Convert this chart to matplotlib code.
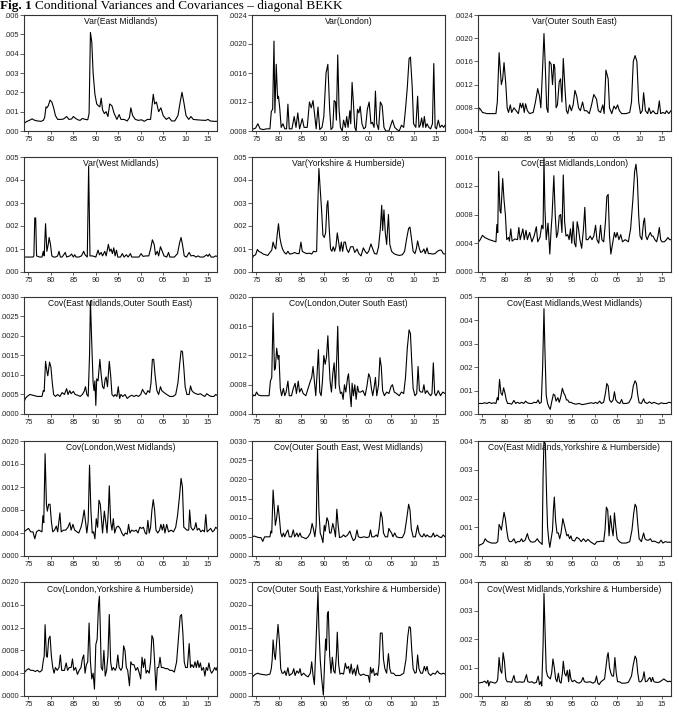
import matplotlib
matplotlib.use("Agg")
import matplotlib.pyplot as plt
from matplotlib.ticker import FixedLocator, FuncFormatter

# all series are (year, value) pairs, values in units of 1e-4
var_em = [(1974.0,3.8),(1974.5,4.8),(1975.2,5.5),(1975.8,6.3),(1976.3,5.6),(1977.0,5.2),(1977.8,5.0),(1978.3,5.5),(1978.6,7.0),(1978.9,12.5),(1979.1,12.0),(1979.4,13.0),(1979.8,16.0),(1980.2,15.0),(1980.6,12.0),(1981.0,8.0),(1981.5,6.0),(1982.2,6.0),(1982.8,6.2),(1983.5,7.5),(1984.0,6.0),(1984.6,6.2),(1985.0,7.5),(1985.5,6.5),(1986.0,5.8),(1986.5,5.5),(1987.0,6.5),(1987.6,6.0),(1988.2,5.8),(1988.5,9.0),(1988.8,51.0),(1989.1,46.0),(1989.4,30.0),(1989.8,19.0),(1990.2,14.0),(1990.6,13.0),(1990.9,12.5),(1991.2,17.0),(1991.5,11.0),(1991.9,9.0),(1992.3,10.0),(1992.7,7.5),(1993.1,14.0),(1993.6,13.0),(1994.1,9.0),(1994.7,6.0),(1995.2,8.5),(1995.6,6.0),(1996.3,6.0),(1997.0,5.2),(1997.5,7.0),(1997.8,12.0),(1998.2,8.0),(1998.8,6.0),(1999.5,5.5),(2000.2,5.8),(2000.8,5.0),(2001.5,6.0),(2002.2,6.0),(2002.8,19.0),(2003.1,14.0),(2003.5,15.0),(2004.0,10.0),(2004.5,12.0),(2005.0,8.0),(2005.7,6.0),(2006.3,7.0),(2006.9,5.2),(2007.6,5.2),(2008.3,8.0),(2008.8,15.0),(2009.2,20.0),(2009.6,15.0),(2010.1,8.0),(2010.7,6.0),(2011.2,7.5),(2011.7,6.0),(2012.5,5.8),(2013.5,5.6),(2014.5,5.5),(2015.0,6.0),(2015.5,5.2),(2016.2,5.0),(2017.0,5.0)]

var_lon = [(1974.0,8.2),(1974.8,8.4),(1975.3,9.0),(1975.8,8.3),(1976.5,8.2),(1977.3,8.3),(1978.0,8.3),(1978.3,10.7),(1978.6,11.0),(1978.9,20.4),(1979.1,10.5),(1979.4,17.2),(1979.7,12.5),(1979.9,12.8),(1980.2,11.0),(1980.5,8.5),(1980.9,9.0),(1981.3,8.3),(1981.7,8.3),(1982.0,11.7),(1982.3,8.3),(1982.9,8.3),(1983.4,10.0),(1983.8,8.5),(1984.2,10.5),(1984.6,8.3),(1985.2,9.7),(1985.6,8.5),(1986.3,8.5),(1986.8,12.0),(1987.2,11.2),(1987.6,12.2),(1988.0,10.0),(1988.3,8.3),(1988.7,11.3),(1989.1,8.2),(1989.6,8.5),(1990.0,10.0),(1990.5,16.0),(1990.9,17.2),(1991.3,11.0),(1991.6,8.2),(1992.0,8.5),(1992.3,12.2),(1992.6,12.0),(1992.8,9.5),(1993.1,18.5),(1993.4,11.0),(1993.7,8.5),(1994.1,8.0),(1994.4,9.5),(1994.8,8.5),(1995.1,10.0),(1995.4,8.5),(1995.8,10.8),(1996.0,9.0),(1996.3,14.7),(1996.6,11.8),(1996.9,8.5),(1997.2,8.0),(1997.5,11.0),(1997.8,10.5),(1998.1,11.4),(1998.5,9.0),(1998.9,8.3),(1999.3,8.5),(1999.7,11.0),(2000.1,12.0),(2000.5,9.0),(2000.8,9.2),(2001.2,8.5),(2001.5,13.5),(2001.8,9.0),(2002.2,8.2),(2002.6,12.0),(2003.0,11.5),(2003.4,8.5),(2003.8,8.0),(2004.5,8.0),(2005.3,9.5),(2005.8,8.5),(2006.3,8.2),(2006.8,8.0),(2007.3,8.8),(2007.8,8.5),(2008.2,11.0),(2008.6,14.0),(2009.0,18.0),(2009.3,18.2),(2009.7,14.0),(2010.0,9.0),(2010.5,8.5),(2010.9,12.8),(2011.2,8.5),(2011.5,8.8),(2011.8,9.8),(2012.1,8.5),(2012.4,10.0),(2012.7,8.5),(2013.0,9.0),(2013.4,8.5),(2013.8,8.3),(2014.2,9.0),(2014.5,17.3),(2014.8,8.5),(2015.1,8.3),(2015.5,9.5),(2015.9,8.5),(2016.3,8.8),(2016.7,8.5),(2017.0,8.8)]

var_ose = [(1974.0,6.2),(1974.2,8.0),(1974.5,7.8),(1975.0,7.2),(1976.0,7.0),(1977.0,7.0),(1978.0,7.0),(1978.3,9.0),(1978.7,17.5),(1979.2,12.0),(1979.5,13.0),(1979.8,15.8),(1980.2,12.0),(1980.5,8.0),(1980.8,7.2),(1981.2,8.5),(1981.5,7.2),(1982.0,8.0),(1982.5,7.5),(1983.0,7.0),(1983.4,8.8),(1983.7,8.0),(1984.0,8.8),(1984.3,7.2),(1984.6,8.7),(1985.0,7.5),(1985.5,7.0),(1986.3,7.2),(1986.8,9.0),(1987.3,11.3),(1987.7,10.0),(1988.0,8.0),(1988.4,15.0),(1988.7,20.8),(1989.0,15.0),(1989.3,8.0),(1989.6,7.2),(1989.9,16.0),(1990.3,15.5),(1990.6,12.0),(1990.9,15.5),(1991.1,15.0),(1991.4,8.0),(1991.7,8.5),(1992.1,12.5),(1992.4,13.0),(1992.7,9.0),(1993.0,16.5),(1993.4,11.0),(1993.7,7.5),(1994.0,7.0),(1994.4,8.5),(1994.8,7.5),(1995.2,8.5),(1995.6,11.0),(1996.0,10.0),(1996.4,8.0),(1996.8,7.5),(1997.3,9.0),(1997.7,7.5),(1998.2,7.5),(1998.8,7.0),(1999.3,8.5),(1999.8,10.3),(2000.4,9.5),(2000.8,7.5),(2001.3,7.2),(2001.8,8.5),(2002.1,7.0),(2002.5,14.5),(2003.0,13.0),(2003.3,8.0),(2003.8,7.0),(2004.3,8.3),(2004.7,7.8),(2005.1,8.5),(2005.5,7.5),(2006.0,7.0),(2007.0,7.0),(2007.8,7.2),(2008.2,9.0),(2008.6,16.0),(2009.0,17.0),(2009.4,16.0),(2009.8,9.0),(2010.2,7.0),(2010.6,7.5),(2010.9,10.6),(2011.3,7.5),(2011.8,7.0),(2012.1,8.0),(2012.5,7.0),(2013.0,7.5),(2013.5,7.0),(2014.0,7.0),(2014.4,9.2),(2014.7,7.0),(2015.2,7.2),(2015.7,7.0),(2016.0,7.5),(2016.5,7.0),(2017.0,7.5)]

var_wm = [(1974.0,6.5),(1975.0,6.5),(1976.0,6.5),(1976.2,7.0),(1976.4,23.5),(1976.6,23.5),(1976.8,7.0),(1977.5,6.5),(1978.0,6.5),(1978.3,9.0),(1978.5,7.0),(1978.8,21.0),(1979.1,9.0),(1979.4,12.0),(1979.6,15.0),(1979.9,12.0),(1980.2,7.0),(1980.6,6.5),(1981.0,6.5),(1981.5,7.0),(1981.8,9.0),(1982.1,6.5),(1982.5,6.5),(1983.2,8.5),(1983.5,6.5),(1984.2,7.0),(1984.6,7.8),(1985.0,6.5),(1985.3,7.5),(1985.6,6.5),(1986.2,6.5),(1986.8,7.0),(1987.3,9.0),(1987.6,7.5),(1988.1,6.5),(1988.4,46.0),(1988.7,7.0),(1989.2,7.0),(1989.6,6.8),(1990.0,6.5),(1990.5,9.5),(1990.8,7.5),(1991.2,8.5),(1991.5,7.0),(1992.0,9.0),(1992.3,7.0),(1992.8,12.0),(1993.1,9.0),(1993.4,10.0),(1993.7,8.0),(1994.0,10.5),(1994.3,7.0),(1994.6,9.5),(1994.9,6.5),(1995.5,6.5),(1995.9,8.0),(1996.3,6.5),(1996.8,7.5),(1997.2,6.5),(1997.7,8.0),(1998.0,6.5),(1999.0,6.5),(1999.6,6.5),(2000.1,8.0),(2000.5,6.8),(2001.2,7.0),(2001.8,7.0),(2002.2,10.0),(2002.6,14.0),(2003.0,12.0),(2003.3,7.5),(2003.7,9.0),(2004.0,7.0),(2004.4,11.0),(2004.8,9.0),(2005.2,7.0),(2005.8,6.5),(2006.2,8.5),(2006.5,6.5),(2007.5,6.5),(2008.2,8.0),(2008.7,13.0),(2009.0,15.0),(2009.3,12.0),(2009.7,7.0),(2010.2,6.5),(2010.8,8.5),(2011.2,7.0),(2011.8,7.2),(2012.3,6.5),(2012.8,7.0),(2013.2,6.5),(2014.0,6.5),(2014.7,7.5),(2015.0,6.8),(2015.3,7.8),(2015.7,6.5),(2016.3,6.5),(2016.7,7.0),(2017.0,6.8)]

var_yh = [(1974.0,5.5),(1974.3,7.0),(1974.8,7.5),(1975.2,9.8),(1975.5,9.0),(1976.0,8.5),(1976.5,7.8),(1977.0,7.5),(1977.5,7.2),(1978.0,8.5),(1978.4,9.5),(1978.7,13.0),(1979.0,11.0),(1979.3,10.0),(1979.6,16.0),(1979.9,21.0),(1980.2,15.0),(1980.5,12.0),(1980.8,10.0),(1981.2,8.5),(1981.6,7.8),(1982.0,9.0),(1982.4,7.8),(1983.0,8.0),(1983.5,8.5),(1984.0,8.0),(1984.5,8.0),(1984.9,13.0),(1985.2,9.0),(1985.6,8.5),(1986.2,8.0),(1986.8,8.2),(1987.3,7.8),(1987.7,9.0),(1988.1,8.8),(1988.4,9.0),(1988.6,25.0),(1988.9,45.0),(1989.2,36.0),(1989.5,27.0),(1989.8,16.0),(1990.1,15.0),(1990.4,17.0),(1990.7,29.0),(1990.9,31.0),(1991.2,19.0),(1991.5,10.0),(1991.8,9.0),(1992.1,11.0),(1992.4,9.0),(1992.7,11.0),(1993.0,17.0),(1993.3,13.0),(1993.6,9.0),(1993.9,13.0),(1994.2,9.0),(1994.5,13.0),(1994.8,13.0),(1995.1,10.0),(1995.5,8.5),(1996.0,11.0),(1996.5,11.0),(1996.9,8.5),(1997.4,10.0),(1997.8,8.0),(1998.3,7.0),(1998.8,10.5),(1999.2,9.0),(1999.6,8.0),(2000.0,9.0),(2000.5,12.2),(2000.9,10.0),(2001.3,8.0),(2001.8,7.8),(2002.2,11.0),(2002.6,19.0),(2002.9,29.0),(2003.1,18.0),(2003.4,27.0),(2003.7,17.0),(2004.0,12.0),(2004.4,25.0),(2004.7,12.0),(2005.1,9.0),(2005.6,8.0),(2006.2,7.5),(2006.8,7.2),(2007.5,7.5),(2008.0,9.0),(2008.5,15.0),(2008.9,19.0),(2009.2,19.5),(2009.5,15.0),(2009.9,9.0),(2010.3,8.0),(2010.6,10.0),(2010.9,13.5),(2011.3,10.0),(2011.6,8.5),(2012.0,9.0),(2012.3,10.0),(2012.6,8.0),(2013.0,10.5),(2013.3,8.0),(2013.8,8.0),(2014.3,7.8),(2014.8,8.0),(2015.3,9.0),(2015.8,9.5),(2016.2,9.5),(2016.6,8.0),(2017.0,7.8)]

cov_em_lon = [(1974.0,4.1),(1974.5,4.5),(1975.0,5.1),(1975.5,4.8),(1976.5,4.5),(1977.5,4.3),(1978.0,4.2),(1978.2,6.6),(1978.4,5.5),(1978.6,14.0),(1978.9,8.5),(1979.1,8.2),(1979.5,13.0),(1979.8,10.0),(1980.1,8.0),(1980.4,4.5),(1980.8,4.8),(1981.0,4.3),(1981.3,6.0),(1981.6,4.3),(1982.2,4.6),(1982.8,4.5),(1983.1,6.2),(1983.4,4.5),(1984.0,6.0),(1984.3,4.5),(1984.7,5.8),(1985.0,4.5),(1985.5,5.5),(1986.0,4.2),(1986.5,5.0),(1987.0,6.3),(1987.3,4.2),(1987.8,4.8),(1988.2,6.5),(1988.5,6.0),(1988.7,15.8),(1988.9,9.0),(1989.2,4.5),(1989.6,6.8),(1990.0,2.5),(1990.3,6.0),(1990.5,7.8),(1990.9,13.4),(1991.2,8.0),(1991.5,4.8),(1991.8,5.5),(1992.1,7.8),(1992.4,8.0),(1992.7,5.5),(1993.0,13.5),(1993.3,7.0),(1993.6,5.0),(1994.0,5.2),(1994.3,4.5),(1994.6,6.0),(1994.9,4.0),(1995.2,7.0),(1995.5,4.0),(1995.8,3.5),(1996.1,7.0),(1996.4,6.0),(1996.7,4.5),(1997.1,3.3),(1997.5,6.0),(1997.8,9.0),(1998.1,4.5),(1998.5,4.5),(1999.0,5.0),(1999.4,4.5),(1999.8,5.0),(2000.2,6.5),(2000.5,4.5),(2000.9,4.0),(2001.3,6.5),(2001.6,4.5),(2002.0,4.2),(2002.4,7.0),(2002.7,10.5),(2003.0,10.8),(2003.3,5.0),(2003.6,2.5),(2004.0,4.0),(2004.4,5.5),(2004.7,4.8),(2005.0,5.5),(2005.4,4.5),(2005.8,5.2),(2006.2,4.2),(2006.8,4.5),(2007.5,4.2),(2008.0,6.0),(2008.5,10.0),(2008.9,14.0),(2009.2,15.0),(2009.5,13.0),(2009.8,8.0),(2010.1,5.0),(2010.5,4.5),(2010.9,7.0),(2011.1,7.5),(2011.4,5.0),(2011.7,4.5),(2012.0,5.0),(2012.4,5.5),(2012.7,5.0),(2013.0,5.0),(2013.4,4.5),(2013.8,4.2),(2014.1,5.0),(2014.4,6.2),(2014.7,4.5),(2015.0,4.2),(2015.5,4.2),(2016.0,4.5),(2016.3,4.8),(2016.7,4.5),(2017.0,4.5)]

cov_em_ose = [(1974.0,3.0),(1974.3,4.0),(1974.7,4.5),(1975.3,5.0),(1976.0,4.8),(1977.0,4.5),(1978.0,4.5),(1978.3,6.0),(1978.5,5.8),(1978.8,13.5),(1979.1,11.0),(1979.3,9.8),(1979.7,13.3),(1980.0,12.0),(1980.3,8.0),(1980.6,5.0),(1981.0,4.5),(1981.5,5.0),(1982.0,4.5),(1982.5,5.5),(1983.0,5.0),(1983.5,6.5),(1983.8,5.0),(1984.2,6.0),(1984.5,5.2),(1985.0,5.8),(1985.4,5.0),(1986.0,4.8),(1986.5,4.5),(1987.0,5.0),(1987.4,5.8),(1987.7,7.0),(1988.0,5.0),(1988.3,4.5),(1988.6,15.0),(1988.8,29.0),(1989.1,18.0),(1989.4,8.0),(1989.6,6.0),(1989.8,8.5),(1990.0,2.2),(1990.2,9.0),(1990.5,8.5),(1990.9,14.0),(1991.2,10.0),(1991.5,7.0),(1991.8,6.5),(1992.1,9.0),(1992.3,9.5),(1992.6,7.0),(1993.0,13.5),(1993.3,10.0),(1993.6,5.0),(1994.0,4.5),(1994.3,5.0),(1994.7,4.5),(1995.0,7.0),(1995.3,4.0),(1995.6,5.0),(1996.0,4.5),(1996.5,5.0),(1997.0,4.0),(1997.5,4.5),(1998.0,4.8),(1998.5,4.5),(1999.0,4.8),(1999.5,4.5),(2000.0,5.0),(2000.4,6.3),(2000.8,5.5),(2001.2,5.0),(2001.6,6.0),(2002.0,5.5),(2002.3,8.0),(2002.6,14.0),(2002.9,14.0),(2003.2,10.0),(2003.6,6.0),(2004.0,5.0),(2004.4,7.0),(2004.7,6.0),(2005.2,5.5),(2005.8,5.0),(2006.5,4.5),(2007.2,4.5),(2007.8,5.0),(2008.3,8.0),(2008.7,13.0),(2009.0,16.2),(2009.3,16.0),(2009.6,12.0),(2009.9,7.0),(2010.3,5.0),(2010.8,5.0),(2011.1,7.2),(2011.4,6.0),(2011.8,5.5),(2012.3,5.2),(2012.8,5.0),(2013.3,5.2),(2013.8,4.8),(2014.3,4.5),(2014.7,5.2),(2015.2,4.8),(2015.7,4.5),(2016.3,4.5),(2016.7,5.0),(2017.0,4.8)]

cov_lon_ose = [(1974.0,6.2),(1974.3,6.6),(1974.7,6.5),(1975.0,7.0),(1975.4,6.6),(1976.0,6.5),(1977.0,6.5),(1977.8,6.5),(1978.1,8.5),(1978.4,9.0),(1978.7,17.8),(1979.0,10.0),(1979.2,10.2),(1979.5,13.0),(1979.8,11.5),(1980.0,12.0),(1980.3,7.5),(1980.6,6.5),(1981.0,7.5),(1981.3,6.5),(1981.6,7.0),(1982.0,8.5),(1982.3,6.5),(1982.8,6.5),(1983.2,7.5),(1983.6,8.2),(1983.9,6.8),(1984.3,8.5),(1984.6,7.0),(1985.0,7.5),(1985.4,6.8),(1986.0,6.5),(1986.5,7.5),(1987.0,8.5),(1987.3,9.0),(1987.6,10.5),(1987.9,8.5),(1988.2,6.5),(1988.5,9.5),(1988.8,12.8),(1989.1,7.0),(1989.4,6.5),(1989.7,8.5),(1990.0,12.0),(1990.3,10.8),(1990.6,11.8),(1990.9,14.7),(1991.1,12.0),(1991.4,8.5),(1991.7,7.0),(1992.0,9.5),(1992.3,11.0),(1992.6,7.5),(1992.9,12.0),(1993.1,16.0),(1993.4,8.0),(1993.7,6.8),(1994.0,7.0),(1994.3,6.0),(1994.6,8.0),(1994.9,7.0),(1995.3,9.0),(1995.5,9.5),(1995.8,7.0),(1996.1,5.0),(1996.3,8.2),(1996.6,6.5),(1996.9,8.0),(1997.2,6.0),(1997.5,7.8),(1997.8,7.0),(1998.2,7.0),(1998.7,7.2),(1999.2,6.5),(1999.6,7.8),(2000.0,9.5),(2000.3,9.0),(2000.6,7.5),(2000.9,6.5),(2001.3,8.0),(2001.5,9.0),(2001.8,6.5),(2002.2,8.0),(2002.5,11.7),(2002.8,10.5),(2003.1,7.2),(2003.5,6.5),(2004.0,7.0),(2004.5,6.8),(2005.0,7.8),(2005.3,8.0),(2005.7,7.0),(2006.2,6.8),(2006.8,6.5),(2007.3,7.0),(2007.8,6.8),(2008.2,9.0),(2008.6,13.0),(2009.0,15.5),(2009.3,15.0),(2009.6,11.0),(2009.9,7.5),(2010.3,6.5),(2010.7,6.8),(2011.0,10.5),(2011.3,7.2),(2011.6,7.0),(2012.0,7.0),(2012.3,8.0),(2012.6,6.8),(2013.0,7.2),(2013.4,6.8),(2013.8,6.5),(2014.1,6.8),(2014.4,11.0),(2014.7,6.8),(2015.0,6.5),(2015.5,7.2),(2016.0,6.5),(2016.5,7.0),(2017.0,6.8)]

cov_em_wm = [(1974.0,4.5),(1975.0,4.5),(1975.5,4.8),(1976.0,4.5),(1976.5,5.0),(1977.0,4.5),(1977.5,4.8),(1978.0,4.5),(1978.3,7.0),(1978.5,6.0),(1978.8,14.8),(1979.1,9.0),(1979.4,8.0),(1979.7,11.2),(1980.0,9.0),(1980.3,6.0),(1980.6,4.5),(1981.0,4.5),(1981.5,4.2),(1982.0,5.8),(1982.4,4.5),(1982.8,5.0),(1983.3,4.5),(1983.7,5.0),(1984.2,4.5),(1984.6,5.5),(1985.0,4.8),(1985.5,4.5),(1986.0,4.5),(1986.5,5.0),(1987.0,4.8),(1987.4,6.0),(1987.7,4.5),(1988.1,5.0),(1988.4,20.0),(1988.7,45.0),(1988.9,28.0),(1989.2,8.0),(1989.5,4.5),(1989.8,3.0),(1990.1,2.0),(1990.4,5.0),(1990.8,8.5),(1991.1,8.0),(1991.4,5.5),(1991.8,7.0),(1992.1,5.0),(1992.4,7.0),(1992.8,11.0),(1993.1,9.0),(1993.4,8.0),(1993.7,6.0),(1994.0,6.0),(1994.3,5.0),(1994.7,5.0),(1995.2,4.5),(1995.8,4.2),(1996.5,4.5),(1997.2,4.0),(1997.8,4.2),(1998.5,4.5),(1999.2,4.8),(1999.8,4.5),(2000.2,5.0),(2000.6,4.5),(2001.1,5.5),(2001.5,4.5),(2002.0,5.0),(2002.4,9.0),(2002.7,13.0),(2003.0,12.0),(2003.3,6.0),(2003.7,5.0),(2004.1,6.0),(2004.4,9.5),(2004.7,6.0),(2005.1,5.0),(2005.6,4.5),(2006.0,6.2),(2006.3,4.5),(2007.0,4.5),(2007.6,4.8),(2008.2,7.0),(2008.6,12.0),(2009.0,14.2),(2009.3,13.0),(2009.6,8.0),(2009.9,4.8),(2010.4,4.5),(2010.9,6.5),(2011.2,5.0),(2011.7,4.5),(2012.2,5.2),(2012.7,4.5),(2013.2,5.0),(2013.8,4.5),(2014.3,4.2),(2014.8,4.8),(2015.3,4.5),(2016.0,4.5),(2016.5,5.0),(2017.0,4.8)]

cov_lon_wm = [(1974.0,4.2),(1974.5,4.5),(1975.0,4.8),(1975.5,4.2),(1976.0,4.2),(1976.4,3.0),(1976.8,4.2),(1977.3,4.5),(1978.0,4.2),(1978.2,7.0),(1978.4,5.8),(1978.7,17.8),(1979.0,9.0),(1979.2,7.8),(1979.5,9.0),(1979.8,9.0),(1980.1,6.0),(1980.4,4.2),(1980.8,4.5),(1981.2,5.2),(1981.5,4.2),(1982.0,7.5),(1982.3,4.2),(1982.8,4.5),(1983.3,4.5),(1983.8,5.0),(1984.2,5.8),(1984.5,4.5),(1984.9,5.5),(1985.3,4.5),(1985.8,4.2),(1986.2,4.0),(1986.7,5.0),(1987.0,6.0),(1987.4,8.0),(1987.7,6.0),(1988.0,4.0),(1988.3,6.0),(1988.6,15.8),(1988.9,8.0),(1989.2,4.0),(1989.5,4.2),(1989.8,3.0),(1990.1,6.5),(1990.4,5.0),(1990.7,9.7),(1991.0,9.0),(1991.3,6.0),(1991.5,4.0),(1991.9,7.8),(1992.2,6.0),(1992.5,4.0),(1992.8,8.0),(1993.0,12.2),(1993.3,6.0),(1993.6,4.5),(1993.9,6.5),(1994.2,4.0),(1994.6,5.0),(1995.0,5.2),(1995.4,4.8),(1995.8,4.0),(1996.2,3.5),(1996.6,4.0),(1997.0,3.8),(1997.3,5.5),(1997.6,4.0),(1998.0,4.5),(1998.5,4.3),(1999.0,4.5),(1999.4,4.0),(1999.8,5.0),(2000.2,4.8),(2000.6,5.0),(2001.0,4.0),(2001.3,3.8),(2001.6,6.2),(2001.9,4.0),(2002.2,5.0),(2002.5,8.0),(2002.8,9.8),(2003.1,8.0),(2003.4,4.5),(2003.8,4.0),(2004.2,4.5),(2004.5,5.5),(2004.8,4.5),(2005.1,5.5),(2005.4,4.0),(2005.8,5.5),(2006.2,4.2),(2006.8,4.5),(2007.3,4.2),(2007.8,5.0),(2008.2,7.0),(2008.6,10.0),(2009.0,13.5),(2009.3,12.0),(2009.6,5.0),(2009.9,4.8),(2010.3,4.5),(2010.7,4.5),(2010.9,8.0),(2011.2,5.0),(2011.6,4.5),(2012.0,4.8),(2012.3,5.8),(2012.6,4.5),(2013.0,4.8),(2013.4,4.2),(2013.8,4.5),(2014.2,4.2),(2014.5,7.2),(2014.8,4.2),(2015.2,4.5),(2015.6,4.8),(2016.0,4.2),(2016.4,4.5),(2016.7,5.0),(2017.0,4.8)]

cov_ose_wm = [(1974.0,5.0),(1974.5,5.2),(1975.0,5.0),(1975.5,4.8),(1976.0,4.8),(1976.4,3.8),(1976.8,5.0),(1977.3,5.0),(1978.0,5.0),(1978.2,6.5),(1978.4,6.0),(1978.7,17.2),(1979.0,12.0),(1979.2,8.0),(1979.5,10.0),(1979.8,13.2),(1980.1,10.0),(1980.4,6.0),(1980.7,5.0),(1981.0,6.0),(1981.3,5.0),(1981.7,6.2),(1982.0,6.8),(1982.3,5.0),(1982.8,5.0),(1983.2,6.8),(1983.5,5.0),(1984.0,6.0),(1984.3,5.0),(1984.7,6.0),(1985.0,5.0),(1985.5,4.8),(1986.0,4.5),(1986.5,5.0),(1987.0,6.0),(1987.4,8.5),(1987.7,7.0),(1988.0,5.0),(1988.3,8.0),(1988.6,28.0),(1988.9,12.0),(1989.2,6.0),(1989.5,5.0),(1989.8,3.5),(1990.1,8.0),(1990.3,6.5),(1990.7,10.0),(1991.0,9.0),(1991.3,6.0),(1991.6,6.0),(1992.0,8.5),(1992.3,7.0),(1992.6,5.0),(1992.9,12.2),(1993.2,8.0),(1993.5,4.8),(1994.0,5.0),(1994.4,5.5),(1994.8,5.0),(1995.3,5.5),(1995.8,6.5),(1996.2,5.0),(1996.6,4.0),(1997.0,4.5),(1997.4,6.8),(1997.7,5.0),(1998.2,4.8),(1999.0,5.0),(1999.6,4.8),(2000.1,5.0),(2000.4,6.8),(2000.7,5.0),(2001.2,5.0),(2001.7,5.5),(2002.0,5.0),(2002.3,7.0),(2002.7,11.5),(2003.0,10.0),(2003.3,6.0),(2003.7,5.0),(2004.2,5.0),(2004.5,7.2),(2004.8,6.5),(2005.1,6.0),(2005.4,5.0),(2005.8,6.0),(2006.2,5.0),(2006.8,4.8),(2007.5,4.8),(2008.0,6.0),(2008.5,10.0),(2008.9,13.5),(2009.2,12.0),(2009.5,7.0),(2009.9,5.0),(2010.4,5.0),(2010.9,8.0),(2011.2,6.0),(2011.6,5.2),(2012.0,5.0),(2012.3,5.8),(2012.7,5.0),(2013.0,5.5),(2013.5,5.0),(2014.0,5.0),(2014.4,6.0),(2014.7,5.0),(2015.2,5.5),(2015.7,5.0),(2016.2,4.8),(2016.6,5.5),(2017.0,5.0)]

cov_em_yh = [(1974.0,3.0),(1974.3,3.8),(1974.7,4.0),(1975.2,4.5),(1975.6,6.0),(1976.0,5.2),(1976.5,4.8),(1977.0,4.5),(1978.0,4.5),(1978.4,5.0),(1978.7,11.0),(1979.0,10.0),(1979.2,9.0),(1979.5,12.0),(1979.8,15.2),(1980.1,13.0),(1980.4,9.0),(1980.7,6.0),(1981.0,5.0),(1981.5,5.0),(1982.0,6.0),(1982.4,4.5),(1982.8,5.0),(1983.3,5.0),(1983.7,6.0),(1984.0,5.0),(1984.5,5.5),(1985.0,7.8),(1985.3,6.0),(1985.7,5.0),(1986.2,4.8),(1986.7,5.0),(1987.2,6.0),(1987.6,5.0),(1988.0,4.5),(1988.3,4.0),(1988.5,28.0),(1988.7,40.0),(1989.0,39.0),(1989.3,20.0),(1989.5,10.0),(1989.8,5.0),(1990.0,3.0),(1990.3,6.0),(1990.6,9.0),(1990.8,16.0),(1991.0,20.5),(1991.3,12.0),(1991.6,8.0),(1991.9,8.0),(1992.2,6.0),(1992.5,8.0),(1992.9,13.0),(1993.2,11.0),(1993.5,9.0),(1993.8,7.0),(1994.1,7.5),(1994.4,6.0),(1994.7,7.0),(1995.0,5.5),(1995.5,5.2),(1996.0,6.5),(1996.5,6.0),(1997.0,5.0),(1997.5,6.0),(1998.0,5.0),(1998.5,5.8),(1999.0,5.0),(1999.5,4.5),(2000.0,4.0),(2000.5,5.0),(2001.0,5.0),(2001.5,5.2),(2002.0,5.0),(2002.3,9.0),(2002.6,17.0),(2002.9,16.0),(2003.2,7.0),(2003.5,14.0),(2003.8,10.0),(2004.1,7.0),(2004.4,15.0),(2004.7,10.0),(2005.0,6.0),(2005.5,5.0),(2006.0,4.5),(2007.0,4.5),(2007.8,5.0),(2008.3,9.0),(2008.7,15.0),(2009.0,18.0),(2009.3,17.0),(2009.6,11.0),(2009.9,6.0),(2010.4,5.0),(2010.9,8.0),(2011.2,6.0),(2011.6,5.5),(2012.0,5.5),(2012.4,6.0),(2012.8,5.0),(2013.3,5.2),(2013.8,4.8),(2014.3,4.5),(2014.8,5.5),(2015.2,4.5),(2015.7,5.0),(2016.2,4.8),(2017.0,4.8)]

cov_lon_yh = [(1974.0,4.0),(1974.5,4.5),(1975.0,4.8),(1975.5,4.5),(1976.0,4.5),(1976.5,4.3),(1977.0,4.5),(1977.5,4.2),(1978.0,4.5),(1978.3,6.2),(1978.5,7.0),(1978.7,12.5),(1979.0,7.0),(1979.2,6.8),(1979.5,10.0),(1979.8,10.5),(1980.1,7.0),(1980.4,5.0),(1980.7,4.0),(1981.0,5.0),(1981.4,4.5),(1981.8,5.0),(1982.1,7.2),(1982.4,4.5),(1983.0,4.5),(1983.4,5.8),(1983.7,4.5),(1984.1,5.0),(1984.5,5.0),(1984.8,6.5),(1985.1,4.5),(1985.5,5.0),(1985.9,3.8),(1986.3,4.5),(1986.7,5.0),(1987.0,6.5),(1987.3,7.2),(1987.6,4.0),(1987.9,5.5),(1988.2,6.0),(1988.5,12.8),(1988.8,6.0),(1989.1,3.0),(1989.4,4.0),(1989.7,1.2),(1990.0,9.0),(1990.3,10.0),(1990.6,16.0),(1990.8,17.5),(1991.0,12.0),(1991.2,5.0),(1991.5,4.5),(1991.8,8.0),(1992.1,3.5),(1992.4,4.5),(1992.7,7.0),(1993.0,14.3),(1993.3,6.0),(1993.6,4.5),(1993.9,5.0),(1994.3,4.5),(1994.6,5.0),(1994.9,7.2),(1995.2,5.0),(1995.6,4.5),(1995.9,5.0),(1996.2,8.8),(1996.5,8.0),(1996.8,5.0),(1997.1,4.5),(1997.5,1.8),(1997.8,6.0),(1998.1,5.5),(1998.5,5.5),(1998.9,4.5),(1999.3,5.0),(1999.7,4.0),(2000.0,3.0),(2000.3,6.8),(2000.6,5.0),(2000.9,6.5),(2001.2,4.0),(2001.5,4.5),(2001.9,4.0),(2002.2,6.0),(2002.5,10.6),(2002.8,10.0),(2003.1,6.0),(2003.4,1.0),(2003.7,5.0),(2004.0,5.0),(2004.3,6.8),(2004.6,5.0),(2005.0,5.0),(2005.5,4.8),(2006.0,4.8),(2006.5,4.5),(2007.0,4.5),(2007.5,4.2),(2008.0,6.0),(2008.4,10.0),(2008.8,14.0),(2009.1,14.3),(2009.4,11.0),(2009.7,6.0),(2010.0,5.0),(2010.4,5.0),(2010.8,9.2),(2011.1,5.0),(2011.4,5.5),(2011.8,5.0),(2012.1,6.0),(2012.4,5.0),(2012.7,6.2),(2013.0,5.0),(2013.3,5.8),(2013.6,4.5),(2014.0,5.0),(2014.3,3.5),(2014.6,5.0),(2014.9,4.5),(2015.2,5.8),(2015.5,4.5),(2015.8,4.0),(2016.2,4.5),(2016.5,5.0),(2016.8,4.5),(2017.0,5.0)]

cov_ose_yh = [(1974.0,4.0),(1974.4,4.5),(1974.8,4.8),(1975.3,5.0),(1975.8,4.8),(1976.5,4.7),(1977.2,4.6),(1978.0,4.8),(1978.3,6.0),(1978.5,8.0),(1978.7,12.3),(1979.0,9.0),(1979.2,8.0),(1979.5,12.0),(1979.8,15.7),(1980.1,12.0),(1980.4,6.0),(1980.7,5.0),(1981.0,5.0),(1981.3,5.5),(1981.6,4.5),(1982.0,6.2),(1982.3,4.5),(1983.0,5.0),(1983.3,6.0),(1983.6,4.5),(1984.0,5.5),(1984.4,5.0),(1984.7,6.0),(1985.0,4.5),(1985.5,5.0),(1986.0,4.5),(1986.5,4.2),(1987.0,5.0),(1987.3,7.5),(1987.6,4.5),(1987.9,2.5),(1988.2,10.0),(1988.5,18.0),(1988.7,22.8),(1988.9,15.0),(1989.2,8.0),(1989.5,4.0),(1989.9,0.2),(1990.2,8.0),(1990.4,12.5),(1990.6,10.0),(1990.8,18.0),(1991.0,18.5),(1991.3,9.0),(1991.6,5.0),(1991.9,8.5),(1992.2,5.5),(1992.5,5.0),(1992.8,9.0),(1993.0,14.0),(1993.3,7.0),(1993.6,4.8),(1994.0,5.0),(1994.4,4.8),(1994.8,7.2),(1995.1,6.0),(1995.5,6.5),(1995.8,5.0),(1996.1,7.0),(1996.4,4.8),(1996.8,6.0),(1997.1,4.5),(1997.5,6.8),(1997.8,5.0),(1998.2,4.5),(1998.8,4.8),(1999.4,4.5),(1999.9,4.5),(2000.2,3.0),(2000.4,6.3),(2000.7,5.0),(2001.0,6.0),(2001.3,4.5),(2001.7,5.0),(2002.0,4.5),(2002.3,7.0),(2002.6,13.8),(2003.0,13.8),(2003.3,8.0),(2003.6,6.0),(2004.0,5.0),(2004.4,9.3),(2004.7,6.0),(2005.0,5.0),(2005.5,5.0),(2006.0,4.5),(2007.0,4.5),(2007.8,5.0),(2008.3,8.0),(2008.7,13.0),(2009.0,15.2),(2009.3,15.0),(2009.6,10.0),(2009.9,6.0),(2010.3,5.0),(2010.6,5.2),(2010.9,9.0),(2011.2,6.0),(2011.6,5.0),(2012.0,5.0),(2012.4,6.5),(2012.7,5.5),(2013.0,6.5),(2013.3,5.0),(2013.8,4.5),(2014.3,5.0),(2014.8,4.8),(2015.3,5.5),(2015.7,5.0),(2016.2,4.8),(2016.6,5.0),(2017.0,4.8)]

cov_wm_yh = [(1974.0,4.5),(1975.0,4.8),(1975.5,5.2),(1975.9,4.5),(1976.2,5.5),(1976.4,3.5),(1976.7,5.0),(1977.2,4.8),(1977.8,4.5),(1978.2,5.0),(1978.4,6.0),(1978.7,13.5),(1979.0,9.0),(1979.3,8.0),(1979.6,15.2),(1979.9,12.0),(1980.2,6.0),(1980.5,5.0),(1981.0,5.0),(1981.5,4.8),(1982.0,7.2),(1982.3,5.0),(1982.8,4.8),(1983.3,5.0),(1983.8,4.8),(1984.3,5.0),(1984.8,7.5),(1985.1,5.0),(1985.6,4.8),(1986.0,5.0),(1986.5,4.5),(1987.0,4.8),(1987.4,7.0),(1987.7,4.0),(1988.0,5.0),(1988.2,3.5),(1988.5,18.0),(1988.7,36.0),(1988.9,25.0),(1989.2,9.0),(1989.5,7.0),(1989.8,6.5),(1990.1,6.0),(1990.4,8.0),(1990.7,13.0),(1991.0,10.0),(1991.3,6.0),(1991.6,5.0),(1991.9,8.0),(1992.2,5.0),(1992.5,4.5),(1992.8,8.0),(1993.0,12.2),(1993.3,8.0),(1993.6,7.0),(1993.9,9.0),(1994.2,5.0),(1994.4,9.2),(1994.7,6.0),(1995.0,5.0),(1995.5,5.5),(1996.0,4.8),(1996.5,4.5),(1997.0,5.0),(1997.4,6.5),(1997.7,5.0),(1998.2,4.8),(1999.0,5.0),(1999.6,4.5),(2000.1,5.0),(2000.4,7.0),(2000.7,4.5),(2001.0,4.0),(2001.4,5.0),(2001.8,5.5),(2002.2,6.0),(2002.5,10.0),(2002.8,14.0),(2003.0,15.2),(2003.3,10.0),(2003.6,8.0),(2003.9,7.0),(2004.2,7.0),(2004.5,13.5),(2004.8,8.0),(2005.1,5.0),(2005.5,5.0),(2006.0,4.5),(2006.8,4.5),(2007.5,4.8),(2008.2,7.0),(2008.6,11.0),(2009.0,14.0),(2009.3,13.0),(2009.6,8.0),(2009.9,5.0),(2010.3,5.0),(2010.7,6.0),(2011.0,8.5),(2011.3,5.0),(2011.7,5.2),(2012.0,6.0),(2012.3,6.5),(2012.6,5.0),(2012.9,6.5),(2013.2,5.0),(2013.7,4.8),(2014.3,4.8),(2015.0,5.5),(2015.4,6.0),(2015.8,5.5),(2016.3,5.0),(2016.7,5.2),(2017.0,5.0)]

# title, series, (ymin, ymax, step, decimals) -- row by row, left to right
panels = [
    ("Var(East Midlands)", var_em, (0.0, 0.006, 0.001, 3)),
    ("Var(London)", var_lon, (0.0008, 0.0024, 0.0004, 4)),
    ("Var(Outer South East)", var_ose, (0.0004, 0.0024, 0.0004, 4)),
    ("Var(West Midlands)", var_wm, (0.0, 0.005, 0.001, 3)),
    ("Var(Yorkshire & Humberside)", var_yh, (0.0, 0.005, 0.001, 3)),
    ("Cov(East Midlands,London)", cov_em_lon, (0.0, 0.0016, 0.0004, 4)),
    ("Cov(East Midlands,Outer South East)", cov_em_ose, (0.0, 0.0030, 0.0005, 4)),
    ("Cov(London,Outer South East)", cov_lon_ose, (0.0004, 0.0020, 0.0004, 4)),
    ("Cov(East Midlands,West Midlands)", cov_em_wm, (0.0, 0.005, 0.001, 3)),
    ("Cov(London,West Midlands)", cov_lon_wm, (0.0, 0.0020, 0.0004, 4)),
    ("Cov(Outer South East, West Midlands)", cov_ose_wm, (0.0, 0.0030, 0.0005, 4)),
    ("Cov(East Midlands,Yorkshire & Humberside)", cov_em_yh, (0.0, 0.004, 0.001, 3)),
    ("Cov(London,Yorkshire & Humberside)", cov_lon_yh, (0.0, 0.0020, 0.0004, 4)),
    ("Cov(Outer South East,Yorkshire & Humberside)", cov_ose_yh, (0.0, 0.0025, 0.0005, 4)),
    ("Cov(West Midlands,Yorkshire & Humberside)", cov_wm_yh, (0.0, 0.004, 0.001, 3)),
]

year_ticks = [1975, 1980, 1985, 1990, 1995, 2000, 2005, 2010, 2015]

W, H = 679, 717
row_px = [(15, 131), (157, 272), (297, 414), (441, 556), (582, 696)]
col_px = [(24, 217), (252, 445), (478, 671)]

plt.rcParams['font.family'] = ['Liberation Sans', 'DejaVu Sans']
fig = plt.figure(figsize=(W / 100, H / 100), dpi=100)

for i, (title, series, (ymin, ymax, step, dec)) in enumerate(panels):
    r, c = divmod(i, 3)
    x0, x1 = col_px[c]
    y0, y1 = row_px[r]
    ax = fig.add_axes([x0 / W, 1 - y1 / H, (x1 - x0) / W, (y1 - y0) / H])
    xs = [p[0] for p in series]
    ys = [p[1] * 1e-4 for p in series]
    ax.plot(xs, ys, color='black', lw=0.8)
    ax.set_xlim(1974, 2017)
    ax.set_ylim(ymin, ymax)
    n = int(round((ymax - ymin) / step))
    ax.yaxis.set_major_locator(FixedLocator([ymin + k * step for k in range(n + 1)]))
    ax.yaxis.set_major_formatter(FuncFormatter(lambda v, p, d=dec: f"{v:.{d}f}".lstrip('0')))
    ax.xaxis.set_major_locator(FixedLocator(year_ticks))
    ax.xaxis.set_major_formatter(FuncFormatter(lambda v, p: f"{int(round(v)) % 100:02d}"))
    ax.tick_params(axis='y', direction='out', length=2.8, width=0.5, labelsize=5.4, pad=1,
                   colors='#222222')
    ax.tick_params(axis='x', direction='out', length=1.8, width=0.5, labelsize=5.4, pad=1.5,
                   colors='#222222')
    for s in ax.spines.values():
        s.set_linewidth(0.8)
        s.set_color('#333333')
    ax.text(0.5, 1 - 7 / (y1 - y0), title, transform=ax.transAxes,
            ha='center', va='center', fontsize=6.2, color='#111111')

# figure caption, partly cut at the top edge like the scan
t1 = fig.text(0.0, 1 - 9 / H, "Fig. 1", fontweight='bold', fontsize=9.5,
              family='Liberation Serif', va='baseline')
fig.canvas.draw()
bb = t1.get_window_extent()
fig.text((bb.x1 + 3) / W, 1 - 9 / H, "Conditional Variances and Covariances \u2013 diagonal BEKK",
         fontsize=9.5, family='Liberation Serif', va='baseline')

fig.savefig("out.png", dpi=100)
